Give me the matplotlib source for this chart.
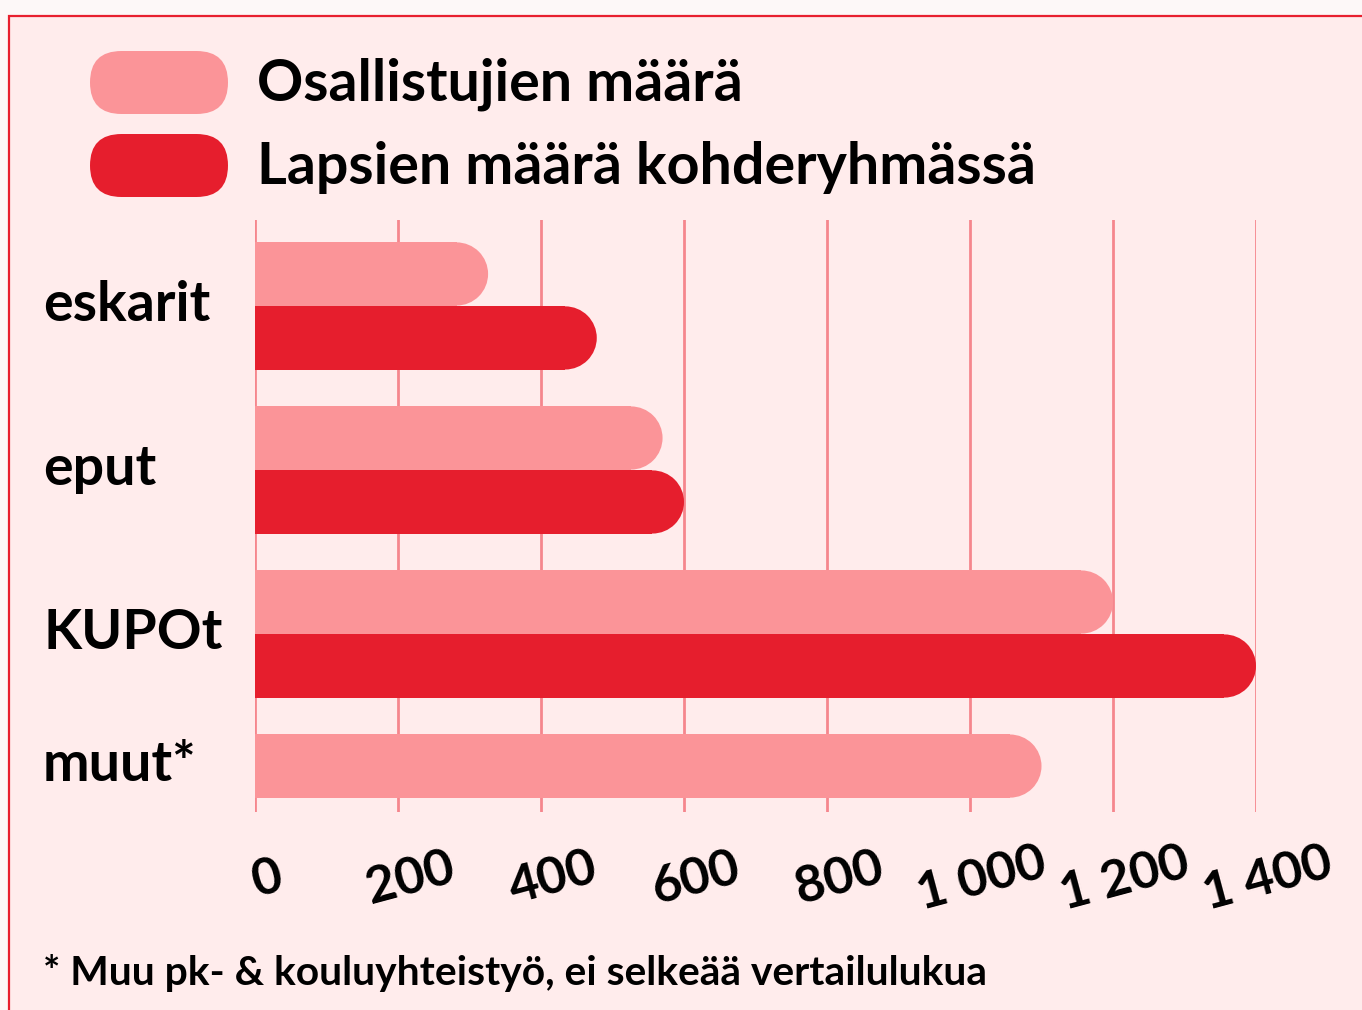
import numpy as np
import matplotlib
matplotlib.use("Agg")
import matplotlib.pyplot as plt
from matplotlib.patches import Rectangle, Ellipse, FancyBboxPatch
from matplotlib.transforms import ScaledTranslation

plt.rcParams['font.family'] = ['Lato', 'DejaVu Sans']
plt.rcParams['font.weight'] = 'bold'

# data
categories = ["eskarit", "eput", "KUPOt", "muut*"]
osallistujat = [326, 570, 1200, 1100]
lapset = [478, 600, 1400, np.nan]
series_names = ["Osallistujien määrä", "Lapsien määrä kohderyhmässä"]
xticks = [0, 200, 400, 600, 800, 1000, 1200, 1400]
xtick_labels = ["0", "200", "400", "600", "800", "1 000", "1 200", "1 400"]
footnote = "* Muu pk- & kouluyhteistyö, ei selkeää vertailulukua"

light = "#FB9498"
dark = "#E61E2D"
bg_in = "#FFECEC"
bg_out = "#FDF8F8"
border = "#E8202F"
grid_c = "#F5868D"

W, H = 1362, 1010
fig = plt.figure(figsize=(W / 100, H / 100), dpi=100, facecolor=bg_out)

# background layer in pixel coordinates
bg = fig.add_axes([0, 0, 1, 1], zorder=0)
bg.set_xlim(0, W)
bg.set_ylim(H, 0)
bg.axis("off")
bg.add_patch(Rectangle((9, 16), W + 20, H + 20, facecolor=bg_in, edgecolor=border, lw=1.6))

# legend
for i, (name, col) in enumerate(zip(series_names, [light, dark])):
    top = 51 + i * 83
    bg.add_patch(FancyBboxPatch((90, top), 138, 63, boxstyle="round,pad=0,rounding_size=31.5",
                                facecolor=col, edgecolor="none"))
    bg.text(257, top + 33, name, fontsize=41.3, va="center", ha="left", color="black")

bg.text(43, 985, footnote, fontsize=29.3, va="baseline", ha="left", color="black")

# main chart
ax = fig.add_axes([255 / W, 1 - 812 / H, 1001 / W, 592 / H], zorder=1)
ax.set_facecolor("none")
ax.set_xlim(0, 1400)
ax.set_ylim(3.085, -0.524)
for s in ax.spines.values():
    s.set_visible(False)

bar_h = 0.385
off = 0.195
y = np.arange(len(categories))

# radius of rounded end in x data units (half bar height in pixels)
px_per_x = 1001 / 1400
px_per_y = 592 / (3.085 + 0.524)
r = bar_h * px_per_y / 2 / px_per_x


def rounded_bars(ypos, vals, col):
    for yy, v in zip(ypos, vals):
        if np.isnan(v):
            continue
        ax.barh(yy, v - r, height=bar_h, color=col, zorder=3, linewidth=0)
        ax.add_patch(Ellipse((v - r, yy), 2 * r, bar_h, facecolor=col, edgecolor="none", zorder=3))


rounded_bars(y - off, osallistujat, light)
rounded_bars(y + off, lapset, dark)

ax.set_xticks(xticks)
ax.set_xticklabels(xtick_labels, rotation=15, fontsize=37, ha="center", va="center",
                   rotation_mode="anchor")
ax.tick_params(axis="x", length=0, pad=48)
shift = ScaledTranslation(12 / 100, 0, fig.dpi_scale_trans)
for lab in ax.get_xticklabels():
    lab.set_transform(lab.get_transform() + shift)
ax.set_yticks([])
ax.grid(axis="x", color=grid_c, linewidth=2, zorder=0)
ax.set_axisbelow(True)

# category labels
for i, cat in enumerate(categories):
    centers = [y[i] - off]
    if not np.isnan(lapset[i]):
        centers.append(y[i] + off)
    ax.text(-212 / 1001, np.mean(centers) + 0.09, cat, transform=ax.get_yaxis_transform(),
            fontsize=40, ha="left", va="baseline", color="black")

fig.savefig("out.png", dpi=100, facecolor=bg_out)
